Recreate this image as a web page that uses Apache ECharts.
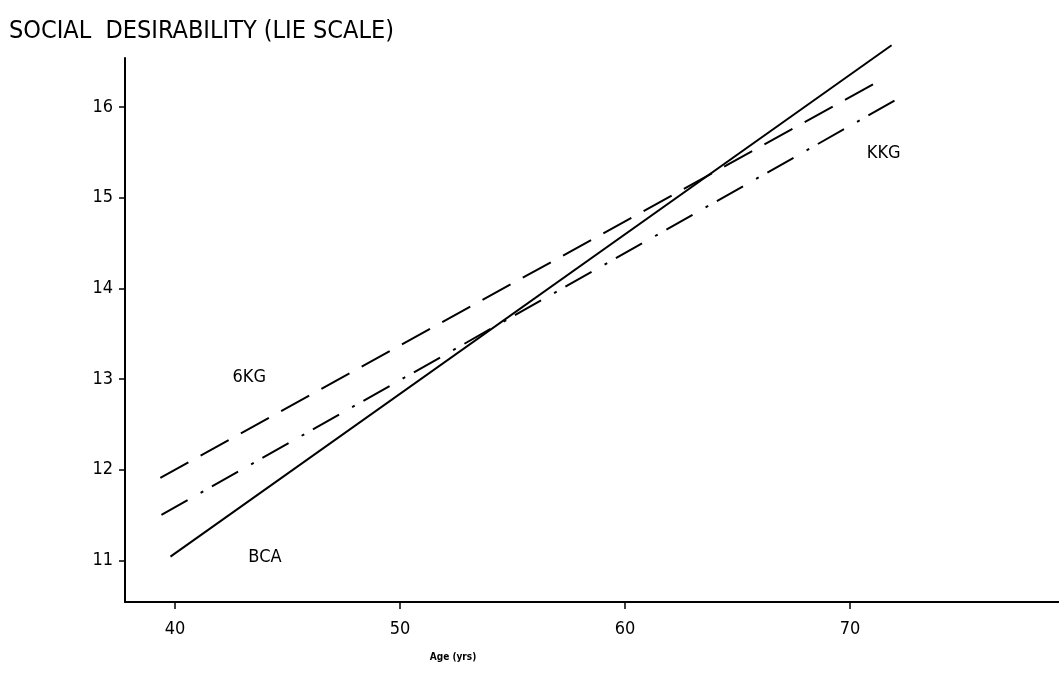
<!DOCTYPE html>
<html>
<head>
<meta charset="utf-8">
<script src="https://cdn.jsdelivr.net/npm/echarts@6/dist/echarts.min.js"></script>
<style>
  html, body { margin: 0; padding: 0; background: #fff; }
  #chart { width: 1059px; height: 681px; }
</style>
</head>
<body>
<div id="chart"></div>
<script>
// 数据:年龄 (x) 与社会期望分数 (y)
const xTicks = [40, 50, 60, 70];
const yTicks = [11, 12, 13, 14, 15, 16];

const bcaAge = [39.8, 71.85];
const bcaScore = [11.04, 16.68];
const gkgAge = [39.35, 71.4];
const gkgScore = [11.91, 16.3];
const kkgAge = [39.4, 72.2];
const kkgScore = [11.5, 16.1];

const labelNames = ["6KG", "BCA", "KKG"];
const labelAge = [43.3, 44.0, 71.5];
const labelScore = [13.02, 11.03, 15.49];

const FONT = "'Liberation Sans Narrow', 'DejaVu Sans Condensed', 'Roboto', sans-serif";
const zip = (xs, ys) => xs.map((x, i) => [x, ys[i]]);

const chart = echarts.init(document.getElementById("chart"), null, { renderer: "canvas" });

function lineSeries(name, data, dash) {
  return {
    name,
    type: "line",
    data,
    showSymbol: false,
    clip: false,
    silent: true,
    lineStyle: { color: "#000", width: 2, type: dash },
  };
}

chart.setOption({
  animation: false,
  backgroundColor: "#fff",
  title: {
    text: "SOCIAL  DESIRABILITY (LIE SCALE)",
    left: 4,
    top: 14,
    textStyle: { fontFamily: FONT, fontSize: 25, fontWeight: "normal", color: "#000" },
  },
  grid: { left: 125, right: 0, top: 58, bottom: 79 },
  xAxis: {
    type: "value",
    min: 37.78,
    max: 79.29,
    name: "Age (yrs)",
    nameLocation: "middle",
    nameGap: 50,
    nameTextStyle: {
      fontFamily: FONT, fontSize: 10, fontWeight: "bold", color: "#000",
      padding: [0, 278, 0, 0],
    },
    axisLine: { lineStyle: { color: "#000", width: 2 } },
    axisTick: { customValues: xTicks, length: 7, lineStyle: { color: "#000", width: 1.5 } },
    axisLabel: {
      customValues: xTicks,
      margin: 18,
      fontFamily: FONT,
      fontSize: 18,
      color: "#000",
    },
    splitLine: { show: false },
  },
  yAxis: {
    type: "value",
    min: 10.54,
    max: 16.54,
    axisLine: { lineStyle: { color: "#000", width: 2 } },
    axisTick: { customValues: yTicks, length: 6, lineStyle: { color: "#000", width: 1.5 } },
    axisLabel: {
      customValues: yTicks,
      margin: 12,
      fontFamily: FONT,
      fontSize: 18,
      color: "#000",
    },
    splitLine: { show: false },
  },
  series: [
    lineSeries("BCA", zip(bcaAge, bcaScore), "solid"),
    lineSeries("GKG", zip(gkgAge, gkgScore), [32, 14]),
    lineSeries("KKG", zip(kkgAge, kkgScore), [30, 15, 3, 10]),
    {
      name: "labels",
      type: "scatter",
      symbolSize: 0,
      silent: true,
      itemStyle: { opacity: 1 },
      data: labelNames.map((n, i) => [labelAge[i], labelScore[i], n]),
      label: {
        show: true,
        position: "inside",
        formatter: (p) => p.value[2],
        fontFamily: FONT,
        fontSize: 18,
        color: "#000",
        opacity: 1,
        textBorderWidth: 0,
      },
    },
  ],
});
</script>
</body>
</html>
